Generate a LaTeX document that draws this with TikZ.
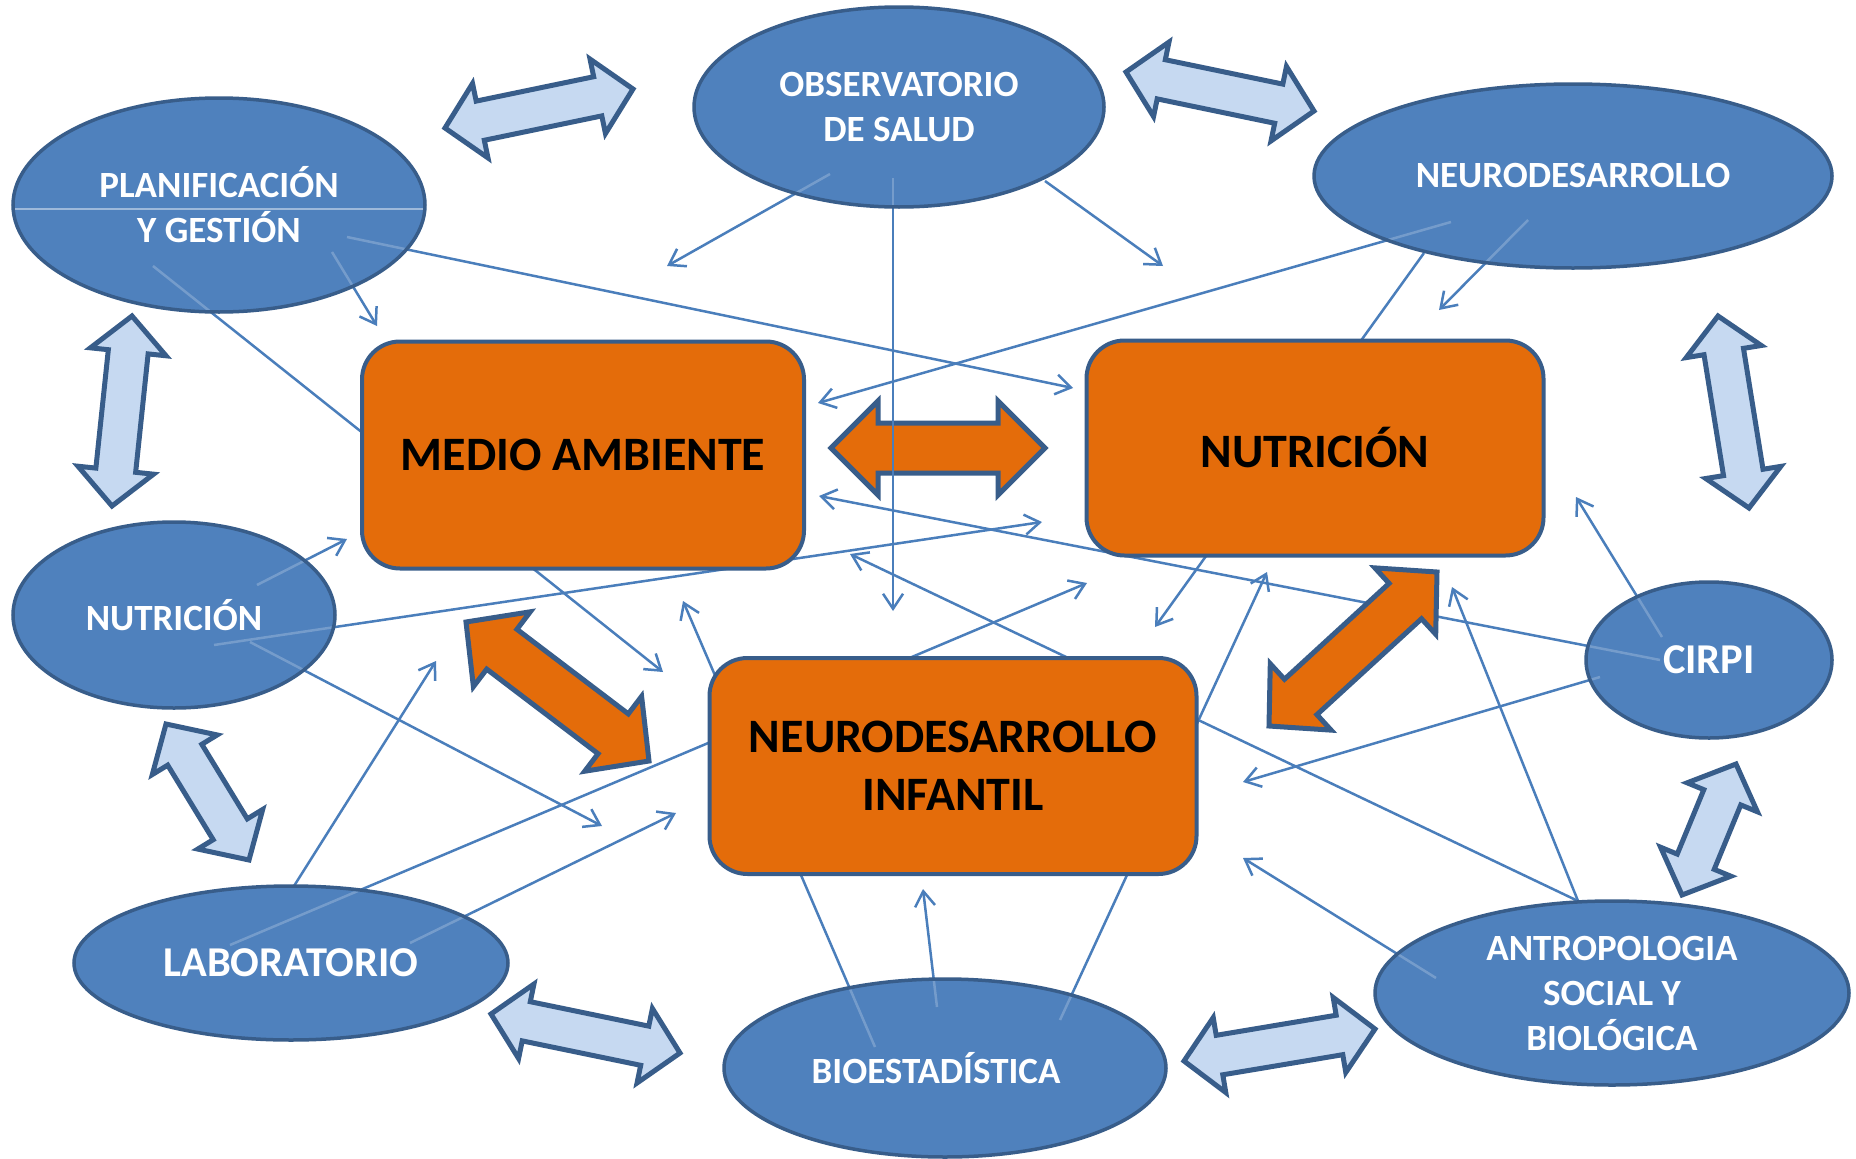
\documentclass[tikz,border=0pt]{standalone}
\usepackage{fontspec}
\setmainfont{Carlito}
\usetikzlibrary{shapes.geometric,arrows.meta}
\definecolor{ellfill}{HTML}{4F81BD}
\definecolor{ellline}{HTML}{385D8A}
\definecolor{orfill}{HTML}{E46C0A}
\definecolor{lblue}{HTML}{C6D9F1}
\definecolor{connc}{HTML}{4A7EBB}

\newcommand\blockarrow[8]{%
  \pgfmathsetmacro\bax{(#2+#4)/2}%
  \pgfmathsetmacro\bay{(#3+#5)/2}%
  \pgfmathsetmacro\bang{atan2(#3-#5,#4-#2)}%
  \pgfmathsetmacro\blen{veclen(#4-#2,#5-#3)/2}%
  \pgfmathsetmacro\bneck{\blen-#8}%
  \begin{scope}[shift={(\bax,\bay)},rotate=\bang]
    \draw[#1] (-\blen,0) -- (-\bneck,#7) -- (-\bneck,#6) -- (\bneck,#6) -- (\bneck,#7) -- (\blen,0)
      -- (\bneck,-#7) -- (\bneck,-#6) -- (-\bneck,-#6) -- (-\bneck,-#7) -- cycle;
  \end{scope}}

\tikzset{
  ell/.style={ellipse, draw=ellline, fill=ellfill, line width=3.5pt, inner sep=-12pt,
    text=white, font=\fontsize{37}{45}\selectfont\bfseries, align=center},
  bigell/.style={ell, font=\fontsize{42.5}{48}\selectfont\bfseries},
  box/.style={rectangle, rounded corners=38pt, draw=ellline, fill=orfill, line width=4pt,
    inner sep=0pt, font=\fontsize{48}{58}\selectfont\bfseries, align=center},
  conn/.style={draw=connc, line width=2.5pt, -{Straight Barb[length=15pt,width=20pt]}},
  plainln/.style={draw=connc, line width=2.5pt},
  faint/.style={draw=white, opacity=0.22, line width=2.5pt},
  bluearr/.style={fill=lblue, draw=ellline, line width=5pt, line join=miter},
  orarr/.style={fill=orfill, draw=ellline, line width=5pt, line join=miter},
}

\begin{document}
\begin{tikzpicture}[x=1pt,y=-1pt]
\useasboundingbox (0,0) rectangle (1856,1159);
\fill[white] (0,0) rectangle (1856,1159);

% connector end points
\coordinate (a0) at (347,237);  \coordinate (a1) at (1073,388);
\coordinate (b0) at (332,252);  \coordinate (b1) at (377,326);
\coordinate (c0) at (153,266);  \coordinate (c1) at (663,672);
\coordinate (d0) at (830,174);  \coordinate (d1) at (667,266);
\coordinate (e0) at (893,178);  \coordinate (e1) at (893,611);
\coordinate (f0) at (1045,181); \coordinate (f1) at (1163,266);
\coordinate (g0) at (1451,222); \coordinate (g1) at (818,403);
\coordinate (h0) at (1528,220); \coordinate (h1) at (1439,310);
\coordinate (i0) at (1424,253); \coordinate (i1) at (1155,627);
\coordinate (j0) at (214,645);  \coordinate (j1) at (1042,522);
\coordinate (k0) at (257,585);  \coordinate (k1) at (347,539);
\coordinate (l0) at (250,642);  \coordinate (l1) at (602,826);
\coordinate (m0) at (294,886);  \coordinate (m1) at (436,661);
\coordinate (n0) at (230,945);  \coordinate (n1) at (1087,583);
\coordinate (o0) at (410,943);  \coordinate (o1) at (676,813);
\coordinate (p0) at (875,1047); \coordinate (p1) at (683,601);
\coordinate (q0) at (937,1007); \coordinate (q1) at (923,889);
\coordinate (r0) at (1060,1020);\coordinate (r1) at (1267,572);
\coordinate (s0) at (1436,978); \coordinate (s1) at (1243,858);
\coordinate (t0) at (1578,901); \coordinate (t1) at (850,554);
\coordinate (u0) at (1578,901); \coordinate (u1) at (1452,587);
\coordinate (v0) at (1660,660); \coordinate (v1) at (819,496);
\coordinate (w0) at (1600,677); \coordinate (w1) at (1243,782);
\coordinate (x0) at (1662,637); \coordinate (x1) at (1576,497);
\coordinate (eA) at (893,385);  \coordinate (eB) at (893,515);

% thin connectors (behind everything)
\foreach \l in {a,b,c,d,e,f,g,h,i,j,k,l,m,n,o,p,q,r,s,t,u,v,w,x}
  \draw[conn] (\l0) -- (\l1);

% ellipses
\node[ell, minimum width=410pt, minimum height=200pt] (obs) at (899,107) {OBSERVATORIO\\DE SALUD};
\node[ell, minimum width=412pt, minimum height=214pt] (plan) at (219,205) {PLANIFICACIÓN\\Y GESTIÓN};
\node[ell, minimum width=518pt, minimum height=184pt] (neu) at (1573,176) {NEURODESARROLLO};
\node[ell, minimum width=322pt, minimum height=186pt] (nutE) at (174,615) {NUTRICIÓN};
\node[bigell, minimum width=434pt, minimum height=154pt] (lab) at (291,963) {LABORATORIO};
\node[ell, minimum width=442pt, minimum height=178pt] (bio) at (945,1068) {\hspace*{-18pt}BIOESTADÍSTICA};
\node[ell, minimum width=474pt, minimum height=184pt] (ant) at (1612,993) {ANTROPOLOGIA\\SOCIAL Y\\BIOLÓGICA};
\node[bigell, minimum width=246pt, minimum height=156pt] (cirpi) at (1709,660) {CIRPI};

% faint traces of connectors inside the ellipses
\begin{scope}
  \clip (plan.center) ellipse [x radius=204pt, y radius=105pt];
  \draw[faint] (a0) -- (a1); \draw[faint] (b0) -- (b1); \draw[faint] (c0) -- (c1);
  \draw[white, opacity=0.45, line width=1.2pt] (0,209) -- (440,209);
\end{scope}
\begin{scope}
  \clip (neu.center) ellipse [x radius=257pt, y radius=90pt];
  \draw[faint] (g0) -- (g1); \draw[faint] (h0) -- (h1); \draw[faint] (i0) -- (i1);
\end{scope}
\begin{scope}
  \clip (nutE.center) ellipse [x radius=159pt, y radius=91pt];
  \draw[faint] (j0) -- (j1); \draw[faint] (k0) -- (k1); \draw[faint] (l0) -- (l1);
\end{scope}
\begin{scope}
  \clip (lab.center) ellipse [x radius=215pt, y radius=75pt];
  \draw[faint] (n0) -- (n1); \draw[faint] (o0) -- (o1);
\end{scope}
\begin{scope}
  \clip (bio.center) ellipse [x radius=219pt, y radius=87pt];
  \draw[faint] (p0) -- (p1); \draw[faint] (q0) -- (q1); \draw[faint] (r0) -- (r1);
\end{scope}
\begin{scope}
  \clip (ant.center) ellipse [x radius=235pt, y radius=90pt];
  \draw[faint] (s0) -- (s1);
\end{scope}
\begin{scope}
  \clip (cirpi.center) ellipse [x radius=121pt, y radius=76pt];
  \draw[faint] (v0) -- (v1); \draw[faint] (w0) -- (w1); \draw[faint] (x0) -- (x1);
\end{scope}
\begin{scope}
  \clip (obs.center) ellipse [x radius=203pt, y radius=98pt];
  \draw[faint] (d0) -- (d1); \draw[faint] (e0) -- (e1); \draw[faint] (f0) -- (f1);
\end{scope}

% central boxes
\node[box, minimum width=442pt, minimum height=227pt] (ma) at (583,455) {MEDIO AMBIENTE};
\node[box, minimum width=457pt, minimum height=215pt] (nut) at (1315,448) {NUTRICIÓN};
\node[box, minimum width=487pt, minimum height=216pt] (ni) at (953,766) {NEURODESARROLLO\\INFANTIL};

% orange block arrows
\blockarrow{orarr}{831}{448}{1045}{448}{25}{47}{47}
\blockarrow{orarr}{466}{622}{649}{761}{25}{47}{45}
\blockarrow{orarr}{1269}{726}{1437}{572}{24}{45}{43}
\draw[plainln] (eA) -- (eB);

% light blue block arrows
\blockarrow{bluearr}{445}{128}{633}{89}{20}{38}{36}
\blockarrow{bluearr}{1126}{72}{1314}{111}{20}{38}{36}
\blockarrow{bluearr}{132}{316}{112}{506}{20}{38}{36}
\blockarrow{bluearr}{166}{724}{249}{860}{20}{38}{36}
\blockarrow{bluearr}{491}{1014}{680}{1053}{20}{38}{36}
\blockarrow{bluearr}{1184}{1061}{1375}{1029}{20}{38}{36}
\blockarrow{bluearr}{1736}{764}{1682}{895}{20}{38}{36}
\blockarrow{bluearr}{1718}{316}{1749}{508}{20}{38}{36}
\end{tikzpicture}
\end{document}
